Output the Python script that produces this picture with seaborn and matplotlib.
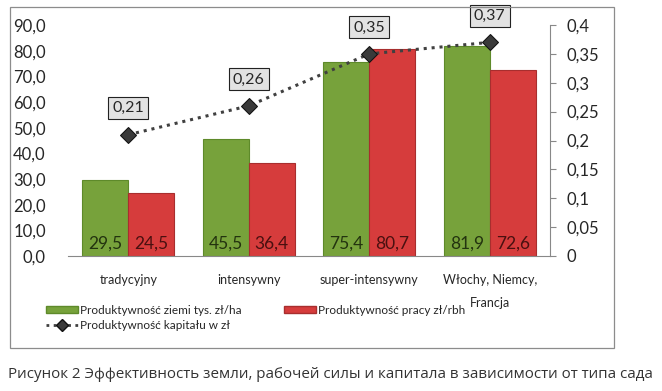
import pandas as pd
import seaborn as sns
import matplotlib.pyplot as plt
from matplotlib.patches import Rectangle, Patch
from matplotlib.lines import Line2D
from matplotlib.ticker import FuncFormatter, MultipleLocator

# dane
kategorie = ["tradycyjny", "intensywny", "super-intensywny", "Włochy, Niemcy,\nFrancja"]
ziemia = [29.5, 45.5, 75.4, 81.9]
praca = [24.5, 36.4, 80.7, 72.6]
kapital = [0.21, 0.26, 0.35, 0.37]

seria_ziemia = "Produktywność ziemi tys. zł/ha"
seria_praca = "Produktywność pracy zł/rbh"
seria_kapital = "Produktywność kapitału w zł"
podpis = "Рисунок 2 Эффективность земли, рабочей силы и капитала в зависимости от типа сада"

kolory = {seria_ziemia: "#77A23B", seria_praca: "#D63C3C"}

df = pd.DataFrame({
    "typ": kategorie * 2,
    "wartosc": ziemia + praca,
    "seria": [seria_ziemia] * 4 + [seria_praca] * 4,
})

sns.set_style("white")
plt.rcParams["font.family"] = ["Lato", "DejaVu Sans"]

fig = plt.figure(figsize=(6.62, 3.91), dpi=100)
ax = fig.add_axes([68 / 662, 1 - 256 / 391, (550 - 68) / 662, (256 - 25) / 391])

sns.barplot(data=df, x="typ", y="wartosc", hue="seria", palette=kolory,
            saturation=1, width=0.76, ax=ax, legend=False, linewidth=0.8,
            edgecolor="#555555")
for p, kol in zip(ax.patches, ["#5E8A2A"] * 4 + ["#A82E2E"] * 4):
    p.set_edgecolor(kol)

ax.set_ylim(0, 90)
ax.set_xlim(-0.5, 3.5)
ax.yaxis.set_major_locator(MultipleLocator(10))
ax.yaxis.set_major_formatter(FuncFormatter(lambda v, _: f"{v:.1f}".replace(".", ",")))
ax.tick_params(axis="y", length=0, pad=16, labelsize=12)
ax.tick_params(axis="x", length=0, pad=13, labelsize=9)
for t in ax.get_xticklabels():
    t.set_linespacing(2.1)
ax.set_xlabel("")
ax.set_ylabel("")
for s in ["left", "top", "right"]:
    ax.spines[s].set_visible(False)
ax.spines["bottom"].set_color("#888888")

# etykiety wartości w słupkach
for i in range(4):
    ax.text(i - 0.19, 5, f"{ziemia[i]:.1f}".replace(".", ","), ha="center", va="center",
            fontsize=12.5, color="#23330F")
    ax.text(i + 0.19, 5, f"{praca[i]:.1f}".replace(".", ","), ha="center", va="center",
            fontsize=12.5, color="#4A1010")

ax2 = ax.twinx()
sns.lineplot(x=list(range(4)), y=kapital, ax=ax2, color="#404040", linestyle=(0, (1, 1.6)),
             linewidth=2.2, marker="D", markersize=8, markerfacecolor="#3a3a3a",
             markeredgecolor="#111111")
ax2.set_ylim(0, 0.4)
ax2.yaxis.set_major_locator(MultipleLocator(0.05))
ax2.yaxis.set_major_formatter(FuncFormatter(lambda v, _: f"{round(v, 2):g}".replace(".", ",")))
ax2.tick_params(axis="y", length=4, width=0.8, color="#888888", pad=8, labelsize=12)
for s in ["left", "top", "bottom"]:
    ax2.spines[s].set_visible(False)
ax2.spines["right"].set_color("#888888")

for i, v in enumerate(kapital):
    ax2.annotate(f"{v:.2f}".replace(".", ","), (i, v), xytext=(0, 19),
                 textcoords="offset points", ha="center", va="center", fontsize=11.5,
                 bbox=dict(boxstyle="square,pad=0.25", fc="#E2E2E2", ec="#222222", lw=0.8))

uchwyty = [
    Patch(facecolor=kolory[seria_ziemia], edgecolor="#5E8A2A"),
    Line2D([], [], color="#404040", linestyle=(0, (1, 1.6)), linewidth=2, marker="D",
           markersize=6, markerfacecolor="#3a3a3a", markeredgecolor="#111111"),
    Patch(facecolor=kolory[seria_praca], edgecolor="#A82E2E"),
]
fig.legend(uchwyty, [seria_ziemia, seria_kapital, seria_praca], ncol=2,
           loc="upper left", bbox_to_anchor=(40 / 662, 1 - 299 / 391), frameon=False,
           fontsize=8.5, handlelength=2.7, handleheight=0.5, handletextpad=0.2,
           columnspacing=3.6, labelspacing=0.35, borderpad=0)

fig.patches.append(Rectangle((10 / 662, 1 - 348 / 391), 604 / 662, 341 / 391,
                             transform=fig.transFigure, fill=False, ec="#8C8C8C", lw=0.9))

fig.text(8 / 662, 1 - 374 / 391, podpis, family=["Open Sans", "DejaVu Sans"],
         fontsize=10.9, color="#333333", va="center", ha="left")

fig.savefig("out.png", dpi=100)
